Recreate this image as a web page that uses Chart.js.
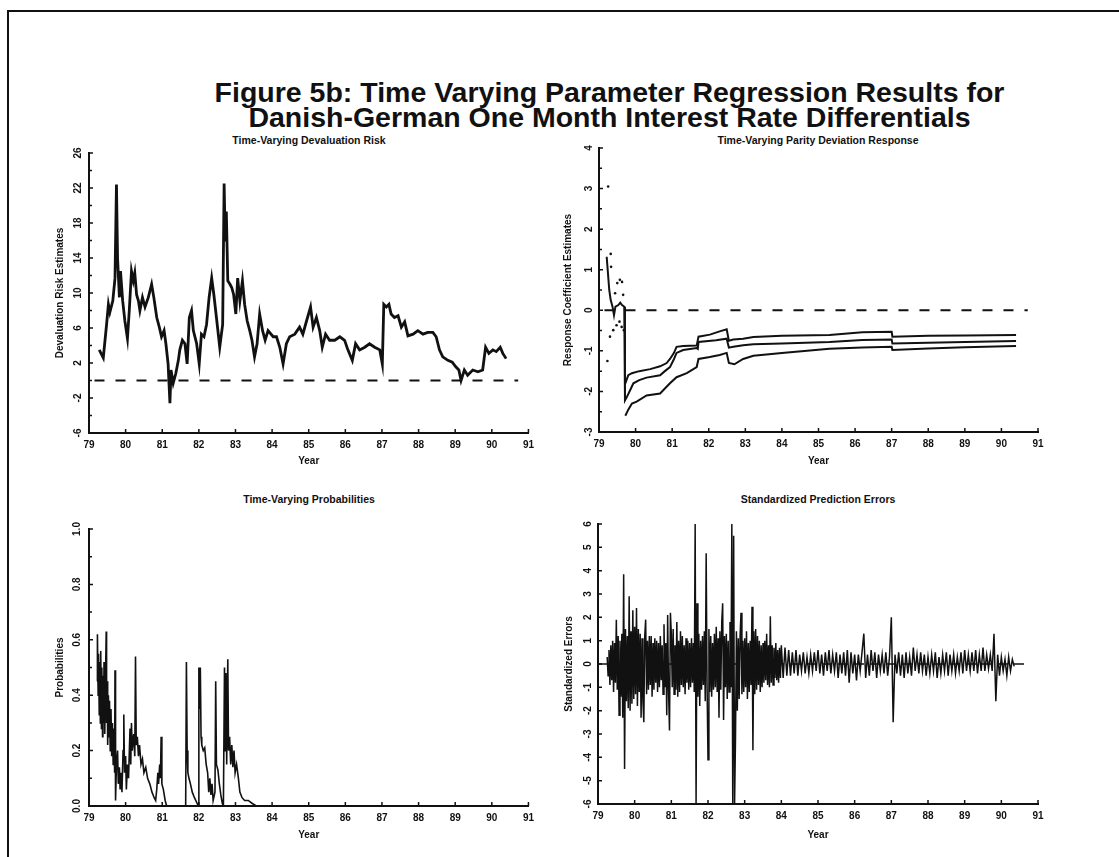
<!DOCTYPE html>
<html>
<head>
<meta charset="utf-8">
<script src="https://cdn.jsdelivr.net/npm/chart.js@4/dist/chart.umd.min.js"></script>
<style>
  html { overflow: hidden; }
  body { margin: 0; background: #fff; width: 1119px; height: 857px; position: relative; overflow: hidden;
         font-family: "Liberation Sans", Arial, sans-serif; color: #111; }
  .frame { position: absolute; left: 7px; top: 10px; width: 1200px; height: 900px;
           border-top: 2px solid #111; border-left: 2px solid #111; }
  .title { position: absolute; left: 50px; top: 80px; width: 1119px; text-align: center;
           font-weight: bold; font-size: 28.5px; line-height: 25px; }
  .sub { position: absolute; width: 440px; text-align: center; font-weight: bold;
         font-size: 10.5px; line-height: 14px; }
  canvas { position: absolute; }
</style>
</head>
<body>
<div class="frame"></div>
<div class="title">Figure 5b: Time Varying Parameter Regression Results for<br>Danish-German One Month Interest Rate Differentials</div>
<div class="sub" style="left:89px; top:133px;">Time-Varying Devaluation Risk</div>
<div class="sub" style="left:598px; top:133px;">Time-Varying Parity Deviation Response</div>
<div class="sub" style="left:89px; top:492px;">Time-Varying Probabilities</div>
<div class="sub" style="left:598px; top:492px;">Standardized Prediction Errors</div>

<canvas id="risk" width="510" height="340" style="left:30px; top:140px;"></canvas>
<canvas id="parity" width="510" height="345" style="left:540px; top:135px;"></canvas>
<canvas id="prob" width="510" height="340" style="left:30px; top:515px;"></canvas>
<canvas id="errors" width="510" height="345" style="left:540px; top:510px;"></canvas>

<script>
// devaluation risk estimate (percent)
const riskYears = [79.28,79.39,79.48,79.53,79.57,79.65,79.71,79.75,79.78,79.83,79.86,79.92,79.98,80.05,80.10,80.16,80.21,80.25,80.30,80.35,
  80.39,80.46,80.53,80.62,80.71,80.77,80.85,80.92,80.98,81.05,81.10,81.16,81.21,81.24,81.30,81.37,81.44,81.48,81.55,81.62,
  81.68,81.74,81.80,81.85,81.94,82.01,82.07,82.14,82.21,82.28,82.35,82.41,82.48,82.57,82.65,82.69,82.72,82.75,82.79,82.85,
  82.90,82.95,83.01,83.06,83.12,83.19,83.25,83.32,83.39,83.45,83.52,83.59,83.66,83.74,83.81,83.89,84.03,84.12,84.21,84.30,
  84.39,84.48,84.62,84.75,84.84,84.94,85.05,85.12,85.21,85.30,85.37,85.46,85.57,85.71,85.85,85.98,86.07,86.19,86.28,86.39,
  86.53,86.66,86.80,86.94,87.01,87.05,87.12,87.19,87.25,87.34,87.44,87.53,87.62,87.71,87.85,87.98,88.12,88.25,88.39,88.48,
  88.57,88.66,88.80,88.92,89.01,89.10,89.16,89.25,89.34,89.48,89.62,89.75,89.83,89.92,90.03,90.12,90.23,90.30,90.39];
const riskValues = [3.5,2.6,6.4,8.7,7.8,9.1,11.7,22.4,14,9.5,12.5,9.1,6.8,4.8,8,12.5,11.4,12.3,9.8,9.1,
  8,9.5,8.4,9.5,11,9.5,7.2,6.1,5,5.7,4.2,1.9,-2.6,1.2,-0.3,0.8,2.3,3.5,4.6,4.2,
  1.9,7.2,8,5.7,4.2,1.9,5.3,5,6.4,9.5,11.7,9.8,7.2,3.8,6.4,22.5,15.9,19.3,11.4,11,
  10.6,9.8,7.6,11.7,9.1,11.4,8.7,6.8,5.7,4.6,2.7,4.2,7.6,5.7,4.6,5.7,5,5,3.8,1.9,
  4.2,5,5.3,6.1,5.3,6.8,8.4,6.1,7.2,5.7,3.8,5.3,4.6,4.6,5,4.6,3.5,2.3,4.2,3.5,
  3.8,4.2,3.8,3.5,1.9,8.7,8.4,8.7,7.6,7.2,7.4,6.1,6.7,5.1,5.3,5.7,5.3,5.5,5.5,5,
  3.5,2.7,2.3,2.1,1.6,1.2,0,1.2,0.6,1.2,1,1.2,3.8,3.1,3.5,3.3,3.8,3.1,2.5];

// parity deviation response coefficient with upper / lower bands
const parMidYears = [79.21,79.28,79.32,79.37,79.41,79.45,79.53,79.58,79.63,79.69,79.71,79.76,79.85,79.94,80.10,80.30,80.67,80.80,80.94,81.05,
  81.12,81.30,81.67,81.70,81.72,82.20,82.49,82.55,82.67,82.94,83.22,84.00,85.30,86.20,87.00,87.02,88.00,89.00,90.40];
const parMidValues = [1.32,0.5,0.25,0.09,-0.12,0.09,0.13,0.19,0.13,0.09,-2.22,-2.14,-1.97,-1.8,-1.72,-1.66,-1.6,-1.5,-1.4,-1.2,
  -1.05,-0.98,-0.93,-0.95,-0.78,-0.74,-0.7,-0.92,-0.9,-0.86,-0.84,-0.82,-0.78,-0.73,-0.72,-0.82,-0.8,-0.78,-0.76];
const parUpYears = [79.72,79.80,79.90,80.10,80.40,80.67,80.85,80.94,81.05,81.12,81.30,81.67,81.72,82.03,82.30,82.49,82.55,82.67,82.94,83.22,
  84.00,85.30,86.20,87.00,87.02,88.00,89.00,90.40];
const parUpValues = [-1.8,-1.6,-1.55,-1.5,-1.45,-1.38,-1.3,-1.2,-1.05,-0.9,-0.88,-0.87,-0.65,-0.6,-0.52,-0.47,-0.75,-0.72,-0.7,-0.66,
  -0.63,-0.61,-0.54,-0.53,-0.65,-0.63,-0.62,-0.61];
const parLoYears = [79.72,79.80,79.90,80.03,80.30,80.67,80.94,81.12,81.40,81.67,81.72,82.03,82.30,82.49,82.55,82.70,82.94,83.22,84.00,85.30,
  86.20,87.00,87.02,88.00,89.00,90.40];
const parLoValues = [-2.6,-2.45,-2.3,-2.25,-2.1,-2.05,-1.8,-1.65,-1.55,-1.4,-1.2,-1.15,-1.1,-1.05,-1.3,-1.33,-1.2,-1.12,-1.05,-0.95,
  -0.92,-0.9,-0.98,-0.94,-0.91,-0.88];
const parDotUpYears = [79.25,79.32,79.33,79.44,79.50,79.57,79.63,79.66];
const parDotUpValues = [3.05,1.39,1.07,0.42,0.67,0.75,0.7,0.38];
const parDotLoYears = [79.23,79.30,79.39,79.48,79.56,79.62,79.68];
const parDotLoValues = [-1.25,-0.65,-0.49,-0.37,-0.28,-0.41,-0.49];

// regime probabilities
const probYears = [79.22,79.23,79.25,79.26,79.28,79.29,79.31,79.32,79.34,79.35,79.37,79.38,79.40,79.41,79.43,79.45,79.47,79.48,79.50,79.51,
  79.53,79.55,79.56,79.58,79.60,79.62,79.64,79.66,79.68,79.70,79.71,79.72,79.73,79.75,79.78,79.80,79.83,79.85,79.88,79.90,
  79.93,79.95,79.97,80.00,80.02,80.05,80.08,80.12,80.14,80.16,80.18,80.22,80.25,80.27,80.29,80.32,80.35,80.38,80.42,80.46,
  80.50,80.55,80.60,80.66,80.72,80.78,80.82,80.85,80.88,80.90,80.93,80.95,80.97,80.99,81.03,81.08,81.12,81.64,81.66,81.68,
  81.70,81.73,81.77,81.82,81.88,81.95,81.99,82.00,82.02,82.04,82.06,82.08,82.12,82.16,82.20,82.24,82.27,82.30,82.33,82.36,
  82.39,82.44,82.46,82.48,82.52,82.56,82.60,82.64,82.67,82.70,82.72,82.74,82.76,82.79,82.81,82.84,82.87,82.90,82.93,82.96,
  82.99,83.03,83.08,83.12,83.18,83.25,83.35,83.45,83.57,90.40];
const probValues = [0.45,0.62,0.40,0.55,0.33,0.52,0.30,0.56,0.28,0.50,0.25,0.47,0.30,0.52,0.26,0.45,0.63,0.30,0.45,0.22,
  0.40,0.25,0.38,0.20,0.35,0.18,0.30,0.15,0.28,0.12,0.49,0.20,0.02,0.15,0.20,0.08,0.14,0.06,0.12,0.05,
  0.20,0.33,0.12,0.18,0.06,0.15,0.10,0.28,0.15,0.30,0.20,0.26,0.18,0.54,0.22,0.25,0.18,0.22,0.15,0.17,
  0.12,0.14,0.10,0.08,0.05,0.03,0.02,0.06,0.12,0.08,0.15,0.10,0.25,0.08,0.06,0.02,0.0,0.0,0.52,0.20,
  0.12,0.10,0.08,0.05,0.03,0.01,0.0,0.50,0.35,0.50,0.25,0.22,0.20,0.21,0.15,0.12,0.05,0.10,0.04,0.08,
  0.02,0.05,0.45,0.15,0.13,0.08,0.04,0.01,0.0,0.50,0.20,0.48,0.15,0.53,0.20,0.25,0.15,0.22,0.14,0.20,
  0.12,0.15,0.10,0.05,0.03,0.02,0.02,0.01,0.0,0.0];

// standardized prediction errors: first stretch sampled every 0.025 year from 79.25,
// the calmer stretch every 0.05 year from 84.0
const errStartA = 79.25;
const errStepA = 0.025;
const errValuesA = [
  0.3,-0.5,0.6,-0.9,0.8,-0.7,1.0,-1.2,0.9,-0.8,
  1.9,-1.1,1.2,-2.2,1.0,-1.4,1.3,-2.3,3.85,-4.5,
  1.5,-1.6,1.2,-1.9,2.9,-2.0,1.4,-1.7,2.3,-1.5,
  1.6,-1.3,2.4,-1.8,1.5,-1.2,1.3,-2.3,1.1,-1.6,
  -2.5,1.2,1.9,-1.3,1.0,-1.1,1.2,-0.9,1.2,-1.4,
  0.9,-1.1,1.1,-0.8,1.0,-1.2,0.9,-1.0,1.2,-0.7,
  0.8,-1.3,1.7,-1.0,0.9,-2.2,2.1,-1.2,-2.85,2.2,
  1.3,-1.0,1.5,-1.3,0.8,-1.1,1.8,-1.4,1.0,-1.2,
  1.4,-0.9,1.2,-1.0,0.8,-1.3,1.1,-0.8,1.0,-1.1,
  0.9,-1.0,1.1,-0.8,0.9,-1.2,6.0,-6.0,2.6,-1.4,
  1.3,-1.8,1.0,-1.1,1.2,-0.9,1.4,-1.6,4.75,-1.0,
  -4.1,1.5,-1.2,1.2,-1.4,0.9,-1.1,1.3,-1.0,1.6,
  -1.2,1.1,-2.3,1.4,-1.1,1.8,2.6,-2.4,1.2,-1.0,
  1.3,-1.5,1.0,-1.2,1.8,-1.0,6.0,-6.0,5.5,-6.0,
  -3.2,1.4,-2.0,1.1,-1.5,1.2,2.2,-1.3,1.0,-1.2,
  1.1,-1.0,1.4,-1.5,0.9,-1.2,1.0,-0.9,2.45,-3.7,
  1.4,-1.3,1.5,-1.1,1.2,-0.9,1.0,-1.2,0.8,-1.0,
  0.9,-0.8,1.0,-0.7,1.3,-0.9,0.8,-1.0,2.05,-0.8,
  0.8,-0.9,0.7,-0.6,0.9,-0.7,0.6,-0.8,0.7,-0.6];
const errStartB = 84.0;
const errStepB = 0.05;
const errValuesB = [
  0.8,-0.6,0.7,-0.5,0.6,
  -0.5,0.5,-0.4,0.6,-0.5,0.4,-0.3,0.5,-0.4,0.3,
  -0.4,0.4,-0.3,0.5,-0.3,0.6,-0.4,0.4,-0.5,0.5,
  -0.3,0.6,-0.4,0.4,-0.3,0.5,-0.6,0.4,-0.4,0.5,
  -0.5,0.6,-0.8,0.5,-0.4,0.4,-0.7,0.4,-0.3,0.5,
  1.3,-0.6,0.4,-0.5,0.6,-0.3,0.5,-0.6,0.4,-0.3,
  0.4,-0.4,0.5,-0.5,0.3,2.0,-2.5,0.4,-0.4,0.5,
  -0.5,0.4,-0.6,0.5,-0.4,0.3,-0.5,0.7,-0.3,0.4,
  -0.4,0.5,-0.3,0.4,-0.5,0.3,-0.4,0.4,-0.3,0.5,
  -0.6,0.3,-0.4,0.4,-0.3,0.5,-0.5,0.4,-0.3,0.4,
  -0.4,0.3,-0.3,0.5,-0.4,0.6,-0.3,0.4,-0.3,0.5,
  -0.3,0.6,-0.4,0.4,-0.3,0.7,-0.3,0.4,-0.2,0.4,
  -0.3,1.3,-1.6,0.4,-0.5,0.3,-0.3,0.2,-0.5,0.3,
  -0.3,0.2,-0.1];

const zeroValues = [0, 0];

const INK = '#111';
const tickFont = { family: 'Liberation Sans', size: 10, weight: 'bold' };
const labelFont = { family: 'Liberation Sans', size: 10, weight: 'bold' };

const pts = (xs, ys) => xs.map((x, i) => ({ x: x, y: ys[i] }));
const sampled = (start, step, ys) => ys.map((y, i) => ({ x: +(start + i * step).toFixed(3), y: y }));

// small tick marks pointing into the plot, like the original
const inwardTicks = {
  id: 'inwardTicks',
  afterDraw(chart, args, opts) {
    const { ctx, chartArea: a, scales: { x, y } } = chart;
    ctx.save();
    ctx.strokeStyle = INK;
    ctx.lineWidth = 1.5;
    ctx.beginPath();
    x.ticks.forEach(t => {
      const px = x.getPixelForValue(t.value);
      ctx.moveTo(px, a.bottom); ctx.lineTo(px, a.bottom - 4);
    });
    y.ticks.forEach((t, i) => {
      const py = y.getPixelForValue(t.value);
      ctx.moveTo(a.left, py); ctx.lineTo(a.left + 4, py);
      if (opts.minor && i < y.ticks.length - 1) {
        const pm = y.getPixelForValue((t.value + y.ticks[i + 1].value) / 2);
        ctx.moveTo(a.left, pm); ctx.lineTo(a.left + 3, pm);
      }
    });
    ctx.stroke();
    ctx.restore();
  }
};

function panelOptions(p) {
  return {
    responsive: false,
    animation: false,
    layout: { padding: { top: p.padTop, right: p.padRight, left: 0, bottom: 0 } },
    plugins: {
      legend: { display: false },
      tooltip: { enabled: false },
      inwardTicks: { minor: p.minor }
    },
    scales: {
      x: {
        type: 'linear',
        min: 79,
        max: 91,
        ticks: { stepSize: 1, padding: 6, color: INK, font: tickFont, maxRotation: 0, autoSkip: false },
        grid: { display: false, drawTicks: false },
        border: { color: INK, width: 2 },
        title: { display: true, text: 'Year', color: INK, font: labelFont, padding: { top: 0, bottom: p.yearPad } },
        afterFit: s => { s.height = p.xHeight; }
      },
      y: {
        min: p.yMin,
        max: p.yMax,
        ticks: {
          stepSize: p.yStep, color: INK, font: tickFont, minRotation: 90, maxRotation: 90,
          crossAlign: 'center', padding: 5, autoSkip: false, callback: p.fmt
        },
        grid: { display: false, drawTicks: false },
        border: { color: INK, width: 2 },
        title: { display: true, text: p.yTitle, color: INK, font: labelFont, padding: { top: p.titlePad, bottom: 0 } },
        afterFit: s => { s.width = p.yWidth; }
      }
    }
  };
}

const lineSet = (data, width, extra) => Object.assign({
  data: data, borderColor: INK, borderWidth: width, pointRadius: 0, tension: 0, fill: false
}, extra || {});

new Chart(document.getElementById('risk'), {
  type: 'line',
  data: {
    datasets: [
      lineSet(pts(riskYears, riskValues), 2.8),
      lineSet(pts([79.15, 90.72], zeroValues), 2, { borderDash: [10, 11] })
    ]
  },
  options: panelOptions({
    padTop: 13, padRight: 11, yWidth: 59, xHeight: 47, yearPad: 13, titlePad: 24,
    yMin: -6, yMax: 26, yStep: 4, yTitle: 'Devaluation Risk Estimates', minor: true,
    fmt: v => String(v)
  }),
  plugins: [inwardTicks]
});

new Chart(document.getElementById('parity'), {
  type: 'line',
  data: {
    datasets: [
      lineSet(pts(parMidYears, parMidValues), 2),
      lineSet(pts(parUpYears, parUpValues), 2),
      lineSet(pts(parLoYears, parLoValues), 2),
      lineSet(pts(parDotUpYears, parDotUpValues), 0, { showLine: false, pointRadius: 1.3, pointBackgroundColor: INK, pointBorderWidth: 0 }),
      lineSet(pts(parDotLoYears, parDotLoValues), 0, { showLine: false, pointRadius: 1.3, pointBackgroundColor: INK, pointBorderWidth: 0 }),
      lineSet(pts([79.15, 90.72], zeroValues), 2, { borderDash: [10, 11] })
    ]
  },
  options: panelOptions({
    padTop: 13, padRight: 12, yWidth: 59, xHeight: 48, yearPad: 13, titlePad: 22,
    yMin: -3, yMax: 4, yStep: 1, yTitle: 'Response Coefficient Estimates', minor: true,
    fmt: v => String(v)
  }),
  plugins: [inwardTicks]
});

new Chart(document.getElementById('prob'), {
  type: 'line',
  data: { datasets: [lineSet(pts(probYears, probValues), 1.6)] },
  options: panelOptions({
    padTop: 14, padRight: 11, yWidth: 59, xHeight: 49, yearPad: 14, titlePad: 24,
    yMin: 0, yMax: 1, yStep: 0.2, yTitle: 'Probabilities', minor: true,
    fmt: v => v.toFixed(1)
  }),
  plugins: [inwardTicks]
});

new Chart(document.getElementById('errors'), {
  type: 'line',
  data: {
    datasets: [
      lineSet(sampled(errStartA, errStepA, errValuesA).concat(sampled(errStartB, errStepB, errValuesB)), 1.5),
      lineSet(pts([79.0, 90.75], zeroValues), 1.5, { borderDash: [10, 6] })
    ]
  },
  options: panelOptions({
    padTop: 14, padRight: 12, yWidth: 58, xHeight: 51, yearPad: 14, titlePad: 23,
    yMin: -6, yMax: 6, yStep: 1, yTitle: 'Standardized Errors', minor: false,
    fmt: v => String(v)
  }),
  plugins: [inwardTicks]
});
</script>
</body>
</html>
